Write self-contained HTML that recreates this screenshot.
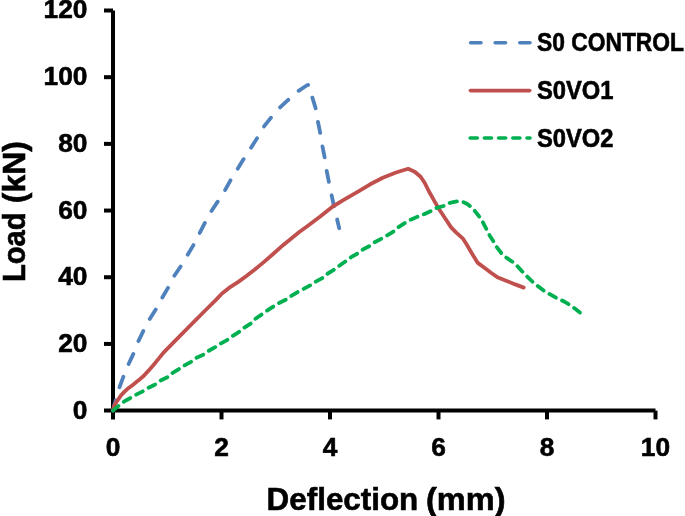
<!DOCTYPE html>
<html><head><meta charset="utf-8"><style>
html,body{margin:0;padding:0;background:#fff;}
body{width:685px;height:516px;overflow:hidden;}
svg{display:block;will-change:transform;}
text{font-family:"Liberation Sans",sans-serif;font-weight:bold;fill:#000;stroke:#000;stroke-width:0.6px;}
</style></head><body>
<svg width="685" height="516" viewBox="0 0 685 516">
<rect width="685" height="516" fill="#fff"/>
<g stroke="#000" stroke-width="4" fill="none">
<line x1="113" y1="10.5" x2="113" y2="419.40000000000003" />
<line x1="104" y1="410.6" x2="655.5" y2="410.6" />
<line x1="104" y1="343.92" x2="113" y2="343.92" />
<line x1="104" y1="277.23" x2="113" y2="277.23" />
<line x1="104" y1="210.55" x2="113" y2="210.55" />
<line x1="104" y1="143.87" x2="113" y2="143.87" />
<line x1="104" y1="77.18" x2="113" y2="77.18" />
<line x1="104" y1="10.50" x2="113" y2="10.50" />
<line x1="221.50" y1="410.6" x2="221.50" y2="419.40000000000003" />
<line x1="330.00" y1="410.6" x2="330.00" y2="419.40000000000003" />
<line x1="438.50" y1="410.6" x2="438.50" y2="419.40000000000003" />
<line x1="547.00" y1="410.6" x2="547.00" y2="419.40000000000003" />
<line x1="655.50" y1="410.6" x2="655.50" y2="419.40000000000003" />
</g>
<g fill="none" stroke-linejoin="round" stroke-width="3.8">
<polyline points="113,410.6 114.4,404.5 116,399.5 119.5,387.4 123.4,376.7 128.4,364.5 133.4,353.8 138.1,341.8 143.4,330.8 149.4,319.5 156.2,308.8 162,298.1 168.2,287.5 173.6,276.8 180.8,266.2 187.2,255.5 193.5,245 199.6,233.2 204.6,223.4 211.3,211.2 217.2,202.4 224.8,190.6 230.3,180.7 237.5,169 243.3,159.6 250.9,147.9 256.6,139 263.5,127.1 270.4,118.3 279.2,108.2 286,101.8 297.9,91.3 306.6,85.5 308.3,84.8 312.4,97.7 315.6,108.1 317.9,121.5 320.2,132.8 322.3,145.6 324.6,157.2 326.4,169.4 328.8,181.5 331.6,195.1 333.5,204 337.2,219.7 339.2,228.2" stroke="#4F81BD" stroke-dasharray="11.2 13.7" stroke-dashoffset="0.6" stroke-linecap="round"/>
<polyline points="113,410.6 114.6,405 117.9,399.8 121.2,395.2 125.1,391.2 127.3,389.1 132.8,384.9 138.2,380.6 143.6,376 148.3,370.9 153.7,364.7 159.1,358.1 163.8,352.3 172.6,343.3 185.2,330.7 196.1,319.6 205.7,310 216.2,299.6 222,293.5 229,287.9 238.3,281.9 246.4,276 254.5,269.7 263.8,262.1 273.1,254 283.6,244.7 299.3,232 307.6,226 320.2,216.6 332.8,206.5 345,199.2 357.6,191.8 370.2,184.3 382.8,177.7 395.4,172.7 400,171.3 408.2,168.8 415.1,172 420.8,177 424.6,182.7 429,191.5 434,200.4 439.1,209.2 444.1,216.7 451.3,227.6 456.3,232.6 462.7,238.3 466.4,244 471.5,252.8 477.8,262.9 485.4,268.5 491.7,273.3 498,277.6 508,281.5 515.2,284.4 523.7,287.6" stroke="#C0504D" stroke-linecap="round"/>
<polyline points="113,410.6 118.2,406.1 123.9,401.7 129.5,398.5 135.9,394.8 142.2,391.6 148.5,387.8 154.8,384.7 160.2,380.7 167.5,377.2 172.6,372.9 178.9,369.1 184.6,365.3 191.5,361.6 196.5,357.8 203.5,354.6 208.5,350.9 215.4,347.1 221.1,343.3 228,339.5 232.6,336 239.5,331.6 243.9,327.9 250.8,323.5 255.2,319 261.5,314.6 266.6,310.9 273.5,306.4 278.5,303.3 286.1,299.5 291.1,296.1 298.2,291.7 303.2,289.2 310.2,285.4 315.8,281.6 322.7,277.9 327.8,273.5 334.1,269.7 339.1,265.9 345.4,261.5 351.1,257.1 357.6,253.5 362.6,249.7 369.5,246 374.6,242.2 382.1,238.4 387.2,235.3 393.5,231.5 398.5,227.1 405.4,222.7 411.2,219.4 418.2,216.5 424,214.2 430.9,211.1 436.6,207.9 443.5,206 449.8,202.9 458,201.2 463.2,202 467.3,204 470.7,206.7 474.8,210.8 479.5,216.9 482.9,222.4 486.6,229.5 489.8,235.8 493.5,241.4 496.7,247.1 501.5,253.3 507,258.2 512.7,262 517.7,266.4 522.8,272.1 527.2,276.5 532.9,282.2 537.8,286.1 543.7,290.7 549.8,294.2 555.9,297.7 562.5,300.7 565.1,302 568.6,304.2 574.2,308.1 579.9,312.5" stroke="#00B050" stroke-dasharray="7.4 6.8" stroke-dashoffset="0.2" stroke-linecap="round"/>
</g>
<g font-size="26.3">
<text x="87.5" y="418.8" text-anchor="end">0</text>
<text x="87.5" y="352.1" text-anchor="end">20</text>
<text x="87.5" y="285.4" text-anchor="end">40</text>
<text x="87.5" y="218.8" text-anchor="end">60</text>
<text x="87.5" y="152.1" text-anchor="end">80</text>
<text x="87.5" y="85.4" text-anchor="end">100</text>
<text x="87.5" y="17.9" text-anchor="end">120</text>
<text x="113.0" y="456.2" text-anchor="middle">0</text>
<text x="221.5" y="456.2" text-anchor="middle">2</text>
<text x="330.0" y="456.2" text-anchor="middle">4</text>
<text x="438.5" y="456.2" text-anchor="middle">6</text>
<text x="547.0" y="456.2" text-anchor="middle">8</text>
<text x="655.5" y="456.2" text-anchor="middle">10</text>
</g>
<text x="266.6" y="509.5" font-size="32" textLength="151.7" lengthAdjust="spacingAndGlyphs">Deflection</text>
<text x="426" y="509.5" font-size="32" textLength="79.5" lengthAdjust="spacingAndGlyphs">(mm)</text>
<text transform="translate(25,282.1) rotate(-90)" x="0" y="0" font-size="31.5" textLength="69.7" lengthAdjust="spacingAndGlyphs">Load</text>
<text transform="translate(25,203.2) rotate(-90)" x="0" y="0" font-size="31.5" textLength="62" lengthAdjust="spacingAndGlyphs">(kN)</text>
<g stroke-width="3.6" fill="none">
<line x1="470.6" y1="42.8" x2="530" y2="42.8" stroke="#4F81BD" stroke-dasharray="10.4 14.2" stroke-linecap="round"/>
<line x1="470.4" y1="90.6" x2="529.7" y2="90.6" stroke="#C0504D" stroke-linecap="round"/>
<line x1="470.2" y1="138" x2="530" y2="138" stroke="#00B050" stroke-dasharray="7.1 7.1" stroke-linecap="round"/>
</g>
<g font-size="25.5">
<text x="537" y="51.3" textLength="147" lengthAdjust="spacingAndGlyphs">S0 CONTROL</text>
<text x="537" y="99.3" textLength="76.5" lengthAdjust="spacingAndGlyphs">S0VO1</text>
<text x="537" y="147" textLength="76.5" lengthAdjust="spacingAndGlyphs">S0VO2</text>
</g>
</svg>
</body></html>
